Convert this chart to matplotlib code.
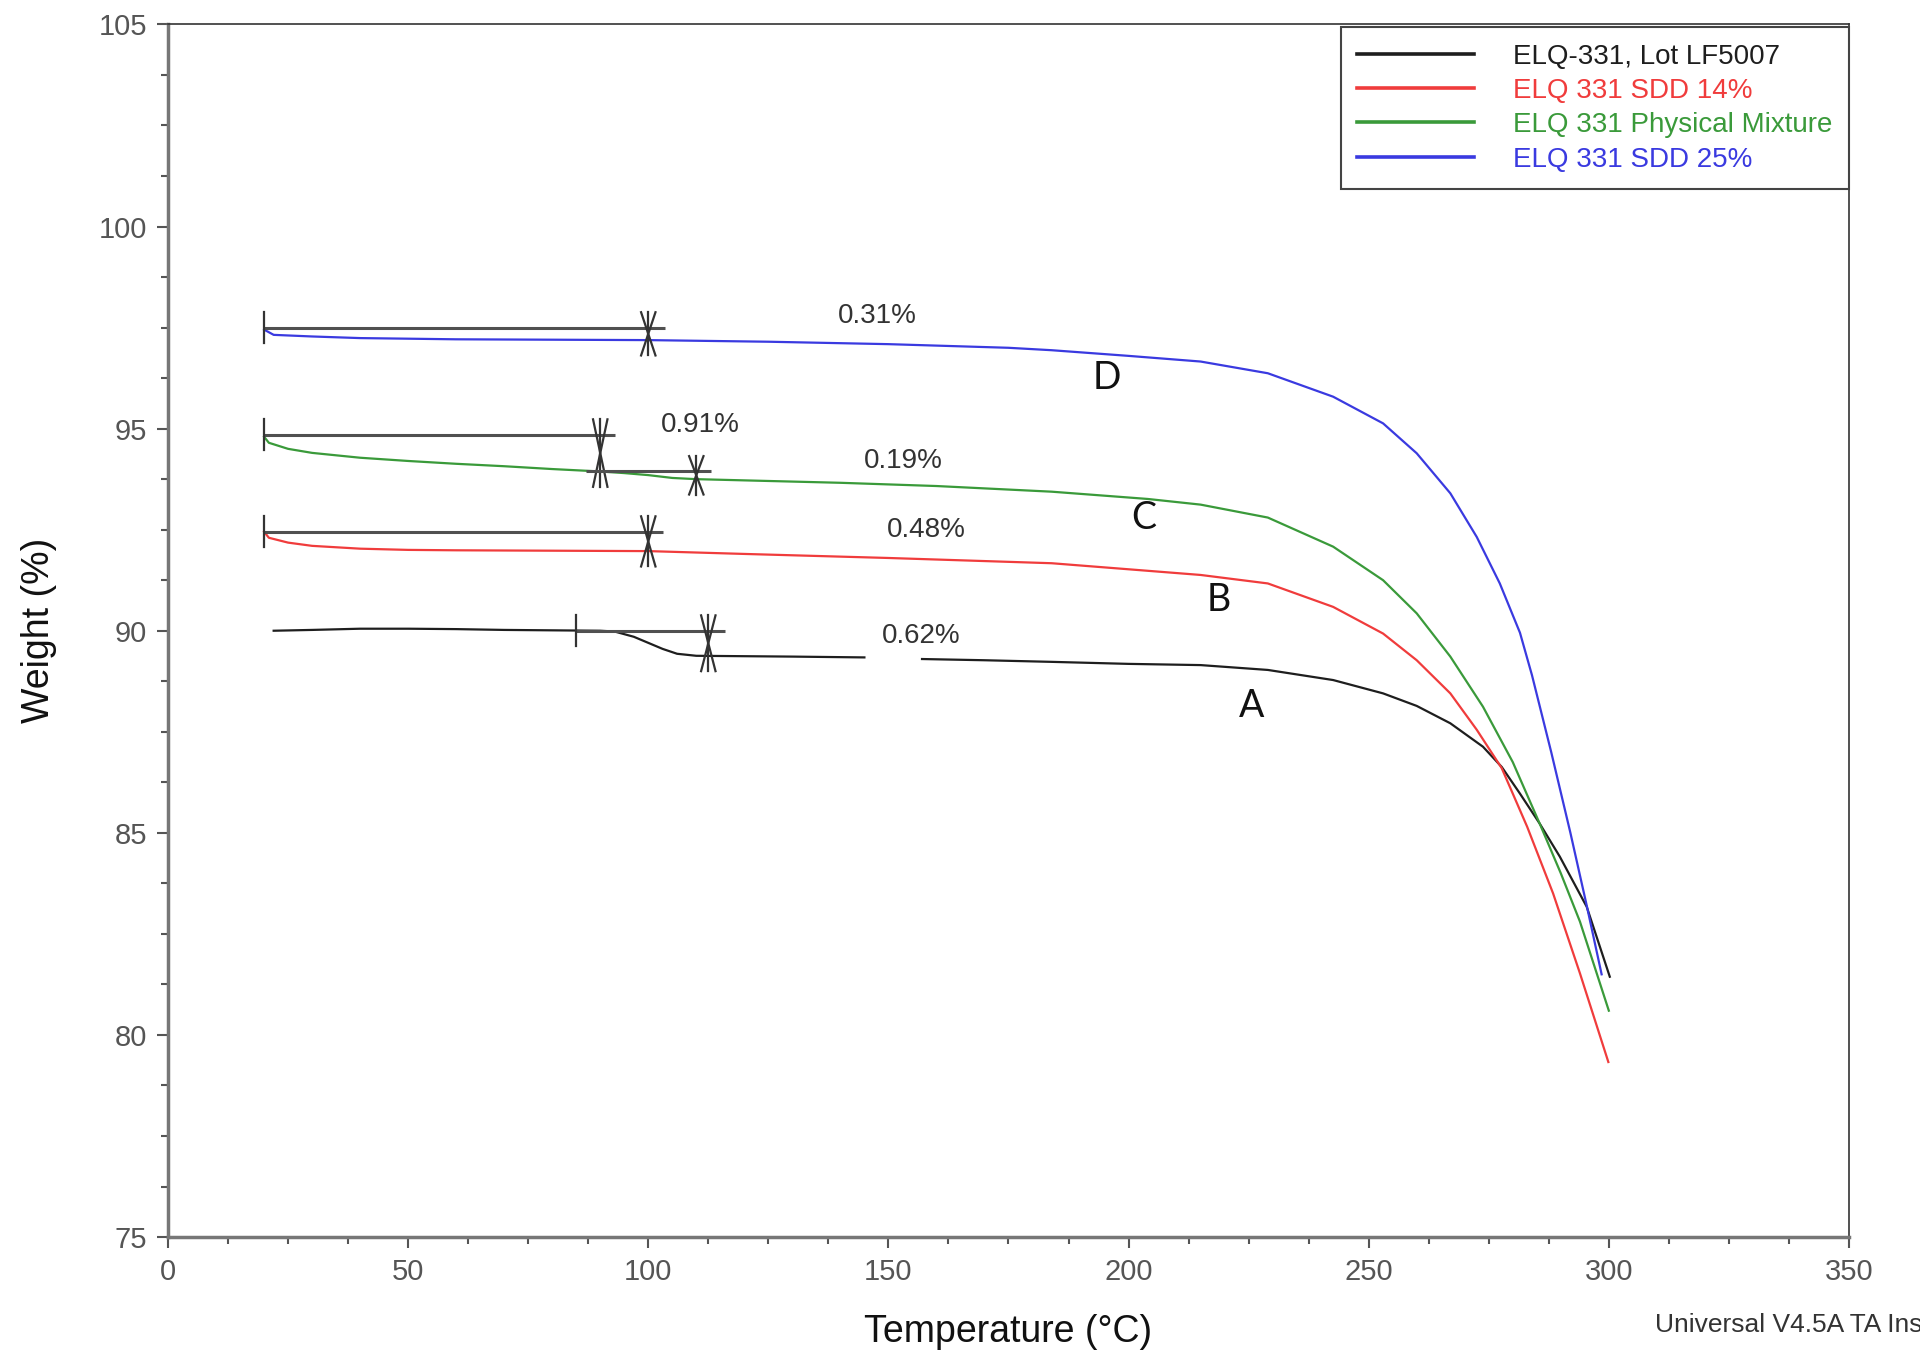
import numpy as np
import matplotlib.pyplot as plt
from matplotlib.ticker import MultipleLocator

plt.rcParams['font.family'] = ['Liberation Sans', 'DejaVu Sans']

# TGA traces: temperature (deg C) / weight (%)
temp_a = [22, 30, 40, 50, 60, 70, 80, 90, 93, 97, 100, 103, 106, 110, 120, 130, 145, np.nan,
          157, 170, 184, 200, 215, 229, 242.6, 253, 260, 267, 273.8, 277.7, 281.5, 285.6, 289.8,
          295.4, 300.2]
weight_a = [90.0, 90.02, 90.05, 90.05, 90.04, 90.02, 90.01, 90.0, 89.98, 89.85, 89.7, 89.55, 89.43,
            89.38, 89.37, 89.36, 89.34, np.nan, 89.3, 89.27, 89.23, 89.18, 89.15, 89.03, 88.78,
            88.45, 88.14, 87.71, 87.13, 86.63, 85.97, 85.23, 84.41, 83.17, 81.44]

temp_b = [20, 21, 25, 30, 40, 50, 60, 80, 100, 120, 150, 184, 215, 229, 242.6, 253, 260, 267,
          272.5, 277.7, 283, 288.4, 294, 299.9]
weight_b = [92.45, 92.3, 92.18, 92.1, 92.03, 92.0, 91.99, 91.98, 91.97, 91.9, 91.8, 91.67, 91.38,
            91.17, 90.59, 89.93, 89.27, 88.45, 87.55, 86.6, 85.15, 83.5, 81.52, 79.33]

temp_c = [20, 21, 25, 30, 40, 50, 60, 70, 80, 90, 95, 100, 105, 110, 120, 140, 160, 184, 204,
          215, 229, 242.6, 253, 260, 267, 273.8, 280, 285.6, 290, 294, 300]
weight_c = [94.8, 94.65, 94.5, 94.4, 94.28, 94.2, 94.13, 94.07, 94.0, 93.94, 93.9, 93.85, 93.78,
            93.75, 93.72, 93.66, 93.58, 93.44, 93.26, 93.12, 92.8, 92.08, 91.25, 90.43, 89.36,
            88.12, 86.75, 85.23, 84.0, 82.8, 80.6]

temp_d = [20, 22, 30, 40, 60, 80, 100, 125, 150, 175, 184, 200, 215, 229, 242.6, 253, 260, 267,
          272.5, 277.3, 281.5, 284, 288, 292, 295.4, 298.5]
weight_d = [97.45, 97.32, 97.28, 97.24, 97.21, 97.2, 97.19, 97.15, 97.09, 97.0, 96.94, 96.8, 96.66,
            96.37, 95.79, 95.13, 94.39, 93.4, 92.32, 91.17, 89.95, 88.9, 87.0, 85.0, 83.2, 81.5]

labels = ['ELQ-331, Lot LF5007', 'ELQ 331 SDD 14%', 'ELQ 331 Physical Mixture', 'ELQ 331 SDD 25%']
colors = ['#1e1e1e', '#f03c3c', '#3a9a3a', '#3a3ae0']
curve_names = ['A', 'B', 'C', 'D']
name_pos = [(225.6, 88.15), (218.7, 90.75), (203.1, 92.8), (195.5, 96.25)]

# weight-loss steps: bracket start/end temp, step end temp, starting weight, loss (%)
step_x0 = [20, 20, 87, 20, 85]
step_x1 = [103.5, 93, 113, 103, 116]
step_end = [100, 90, 110, 100, 112.5]
step_top = [97.5, 94.85, 93.94, 92.45, 90.0]
step_loss = [0.31, 0.91, 0.19, 0.48, 0.62]
step_start_tick = [True, True, False, True, True]
loss_pos = [(147.6, 97.78), (110.9, 95.1), (153.2, 94.2), (157.8, 92.5), (156.8, 89.86)]

fig = plt.figure(figsize=(19.2, 13.57), dpi=100)
ax = fig.add_axes([0.0875, 0.0884, 0.8755, 0.8936])

series = [(temp_a, weight_a), (temp_b, weight_b), (temp_c, weight_c), (temp_d, weight_d)]
for (t, w), lab, col in zip(series, labels, colors):
    ax.plot(t, w, color=col, lw=1.6, label=lab)

for (x, y), name in zip(name_pos, curve_names):
    ax.text(x, y, name, ha='center', va='center', fontsize=27, family=['Lato', 'DejaVu Sans'],
            color='#111')

# step brackets and markers
gray = '#505050'
ext = 0.38
for x0, x1, xe, top, loss, tick in zip(step_x0, step_x1, step_end, step_top, step_loss,
                                       step_start_tick):
    ax.plot([x0, x1], [top, top], color=gray, lw=2.2, solid_capstyle='butt')
    if tick:
        ax.plot([x0, x0], [top - ext, top + ext], color='#333', lw=1.6)
    bot = top - loss
    ax.plot([xe, xe], [bot - ext, top + ext], color='#333', lw=1.6)
    ax.plot([xe - 1.5, xe + 1.5], [top + ext, bot - ext], color='#333', lw=1.6)
    ax.plot([xe + 1.5, xe - 1.5], [top + ext, bot - ext], color='#333', lw=1.6)

for (x, y), loss in zip(loss_pos, step_loss):
    ax.text(x, y, f'{loss:.2f}%', ha='center', va='center', fontsize=20, color='#333')

ax.set_xlim(0, 350)
ax.set_ylim(75, 105)
ax.xaxis.set_major_locator(MultipleLocator(50))
ax.xaxis.set_minor_locator(MultipleLocator(12.5))
ax.yaxis.set_major_locator(MultipleLocator(5))
ax.yaxis.set_minor_locator(MultipleLocator(1.25))
ax.tick_params(which='major', direction='out', length=8, width=1.5, color='#555',
               labelsize=21, labelcolor='#555', pad=7)
ax.tick_params(which='minor', direction='out', length=5, width=1.5, color='#555')
for side in ['left', 'bottom']:
    ax.spines[side].set_linewidth(2.5)
    ax.spines[side].set_color('#777')
for side in ['top', 'right']:
    ax.spines[side].set_linewidth(1.2)
    ax.spines[side].set_color('#333')

ax.set_xlabel('Temperature (\u00b0C)', fontsize=27, color='#111', labelpad=20)
ax.set_ylabel('Weight (%)', fontsize=27, color='#111', labelpad=30)

leg = ax.legend(loc='upper right', bbox_to_anchor=(1.0, 0.998), borderaxespad=0, fancybox=False,
                edgecolor='#444', fontsize=20, handlelength=4.2, handletextpad=1.4,
                labelspacing=0.3, borderpad=0.6, framealpha=1)
leg.get_frame().set_linewidth(1.5)
for txt, line, col in zip(leg.get_texts(), leg.get_lines(), colors):
    txt.set_color(col)
    line.set_linewidth(2.6)

fig.text(1655 / 1920, 1 - 1325 / 1357, 'Universal V4.5A TA Instruments', fontsize=19,
         color='#333', ha='left', va='center')

fig.savefig('out.png', dpi=100)
